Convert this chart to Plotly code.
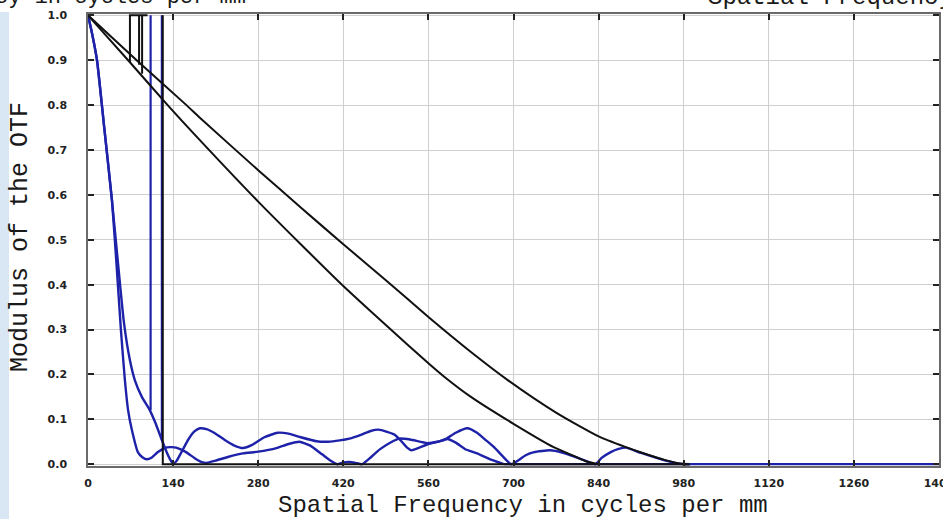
import plotly.graph_objects as go

# ---------------- data ----------------
x_ticks = [0, 140, 280, 420, 560, 700, 840, 980, 1120, 1260, 1400]
x_tick_labels = ["0", "140", "280", "420", "560", "700", "840", "980", "1120", "1260", "1400"]
y_ticks = [0.0, 0.1, 0.2, 0.3, 0.4, 0.5, 0.6, 0.7, 0.8, 0.9, 1.0]
y_tick_labels = ["0.0", "0.1", "0.2", "0.3", "0.4", "0.5", "0.6", "0.7", "0.8", "0.9", "1.0"]

# black curves
black_upper_f = [0, 80, 162, 184, 280, 350, 420, 490, 560, 630, 690, 770, 840, 885, 910, 950, 975, 985]
black_upper_v = [1.0, 0.9, 0.8, 0.772, 0.655, 0.572, 0.49, 0.41, 0.328, 0.25, 0.188, 0.115, 0.062, 0.038, 0.026, 0.009, 0.001, 0.0]
black_lower_f = [0, 66, 131, 184, 280, 350, 420, 490, 560, 586, 630, 700, 766, 800, 820, 840]
black_lower_v = [1.0, 0.9, 0.8, 0.722, 0.585, 0.49, 0.397, 0.31, 0.225, 0.195, 0.15, 0.09, 0.038, 0.018, 0.006, 0.0]

# black artefact segments
art1_f = [69, 69, 98]
art1_v = [0.895, 1.0, 1.0]
art2_f = [84, 84]
art2_v = [0.89, 1.0]
art3_f = [89, 89]
art3_v = [0.87, 1.0]
art4_f = [123, 123, 990]
art4_v = [1.0, 0.0, 0.0]

# blue curves
blue1_f = [0, 6.6, 14.8, 26.3, 39.4, 47.6, 54.2, 60.7, 66, 72.2, 82, 90, 97, 105, 115, 126, 135, 145,
           160, 175, 185, 195, 210, 230, 255, 280, 310, 330, 348, 365, 385, 400, 410, 420, 430, 440,
           451, 465, 480, 500, 512, 530, 558, 575, 591, 605, 620, 640, 660, 684]
blue1_v = [1.0, 0.96, 0.9, 0.755, 0.588, 0.432, 0.298, 0.187, 0.12, 0.076, 0.027, 0.015, 0.011, 0.015,
           0.027, 0.036, 0.038, 0.037, 0.028, 0.014, 0.006, 0.003, 0.008, 0.016, 0.024, 0.028, 0.036,
           0.045, 0.05, 0.042, 0.022, 0.007, 0.0, 0.004, 0.005, 0.003, 0.0, 0.015, 0.033, 0.05, 0.057,
           0.055, 0.047, 0.05, 0.056, 0.048, 0.034, 0.024, 0.012, 0.0]
blue_tail_f = [684, 1000, 1400]
blue_tail_v = [0.0, 0.0, 0.0]
blue2_f = [0, 6.6, 14.8, 26.3, 39.4, 49.2, 59.1, 68.9, 77.1, 88.6, 101.8, 110, 121.5, 130, 134.6, 139.5,
           145, 155, 165, 175, 184, 195, 210, 225, 240, 255, 270, 290, 312, 330, 350, 376, 395, 414,
           430, 450, 465, 478, 492, 504, 515, 525, 532, 545, 560, 586, 605, 624, 640, 655, 668, 684,
           696, 705, 720, 734, 760, 780, 800, 820, 835, 845, 860, 873, 885, 910, 950, 975, 990]
blue2_v = [1.0, 0.96, 0.9, 0.755, 0.588, 0.45, 0.316, 0.232, 0.187, 0.15, 0.12, 0.095, 0.054, 0.025,
           0.012, 0.002, 0.006, 0.03, 0.055, 0.073, 0.08, 0.078, 0.068, 0.054, 0.042, 0.036, 0.043,
           0.06, 0.07, 0.068, 0.06, 0.051, 0.05, 0.053, 0.057, 0.066, 0.074, 0.077, 0.072, 0.066,
           0.052, 0.037, 0.031, 0.037, 0.045, 0.054, 0.07, 0.08, 0.07, 0.053, 0.038, 0.015, 0.0,
           0.006, 0.02, 0.027, 0.031, 0.026, 0.017, 0.007, 0.0, 0.014, 0.027, 0.034, 0.037, 0.025,
           0.008, 0.001, 0.0]
blue_v1_f = [103, 103]
blue_v1_v = [1.0, 0.12]
blue_v2_f = [121.5, 121.5]
blue_v2_v = [1.0, 0.054]

# ---------------- layout helpers ----------------
W, H = 943, 519
ML, MR, MT, MB = 88, 4, 14, 53
PW, PH = W - ML - MR, H - MT - MB


def px_x(p):
    return (p - ML) / PW


def px_y(p):
    return (H - MB - p) / PH


BLUE = "#1e22a8"
BLACK = "#111111"

fig = go.Figure()

for f, v in [(blue1_f, blue1_v), (blue2_f, blue2_v)]:
    fig.add_trace(go.Scatter(x=f, y=v, mode="lines",
                             line=dict(color=BLUE, width=2.4, shape="spline", smoothing=0.5),
                             hoverinfo="skip"))
for f, v in [(blue_v1_f, blue_v1_v), (blue_v2_f, blue_v2_v), (blue_tail_f, blue_tail_v)]:
    fig.add_trace(go.Scatter(x=f, y=v, mode="lines", line=dict(color=BLUE, width=2.2),
                             hoverinfo="skip"))
for f, v in [(black_upper_f, black_upper_v), (black_lower_f, black_lower_v)]:
    fig.add_trace(go.Scatter(x=f, y=v, mode="lines",
                             line=dict(color=BLACK, width=2, shape="spline", smoothing=0.6),
                             hoverinfo="skip"))
for f, v in [(art1_f, art1_v), (art2_f, art2_v), (art3_f, art3_v), (art4_f, art4_v)]:
    fig.add_trace(go.Scatter(x=f, y=v, mode="lines", line=dict(color=BLACK, width=2),
                             hoverinfo="skip"))

tick_font = dict(family="DejaVu Sans", size=11, color="#222222", weight="bold")
title_font = dict(family="Liberation Mono", size=24, color="#1a1a1a")

fig.update_xaxes(range=[0, 1400], tickmode="array", tickvals=x_ticks, ticktext=x_tick_labels,
                 showgrid=True, gridcolor="#cfcfcf", gridwidth=1, zeroline=False,
                 showline=True, linecolor="#6a6a6a", linewidth=1.5, mirror="ticks",
                 ticks="inside", ticklen=6, tickwidth=2, tickcolor="#222222",
                 tickfont=tick_font, ticklabelstandoff=6, ticklabeloverflow="allow")
fig.update_yaxes(range=[-0.004, 1.003], tickmode="array", tickvals=y_ticks, ticktext=y_tick_labels,
                 showgrid=True, gridcolor="#cfcfcf", gridwidth=1, zeroline=False,
                 showline=True, linecolor="#6a6a6a", linewidth=1.5, mirror="ticks",
                 ticks="inside", ticklen=6, tickwidth=2, tickcolor="#222222",
                 tickfont=tick_font, ticklabelstandoff=17, ticklabeloverflow="allow")

annotations = [
    dict(text="Spatial Frequency in cycles per mm", x=px_x(523), y=px_y(506), xref="paper", yref="paper",
         xanchor="center", yanchor="middle", showarrow=False, font=title_font),
    dict(text="Modulus of the OTF", x=px_x(20), y=px_y(237), xref="paper", yref="paper",
         xanchor="center", yanchor="middle", textangle=-90, showarrow=False,
         font=dict(family="Liberation Mono", size=25, color="#1a1a1a")),
    dict(text="Spatial Frequency in cycles per mm", x=px_x(248), y=px_y(-3), xref="paper", yref="paper",
         xanchor="right", yanchor="middle", showarrow=False,
         font=dict(family="Liberation Mono", size=22, color="#1a1a1a")),
    dict(text="Spatial Frequency in cycles per mm", x=px_x(706), y=px_y(-3), xref="paper", yref="paper",
         xanchor="left", yanchor="middle", showarrow=False, font=title_font),
]

shapes = [
    dict(type="rect", xref="paper", yref="paper", x0=px_x(0), x1=px_x(9), y0=px_y(H), y1=px_y(12),
         fillcolor="#d9e6f3", line=dict(width=0), layer="below"),
]

fig.update_layout(width=W, height=H, margin=dict(l=ML, r=MR, t=MT, b=MB, autoexpand=False),
                  template="none", paper_bgcolor="white", plot_bgcolor="white",
                  showlegend=False, annotations=annotations, shapes=shapes)

fig.write_html("out.html", config={"displayModeBar": False},
               post_script="document.body.style.margin='0';document.body.style.padding='0';"
                           "document.body.style.overflow='hidden';")
